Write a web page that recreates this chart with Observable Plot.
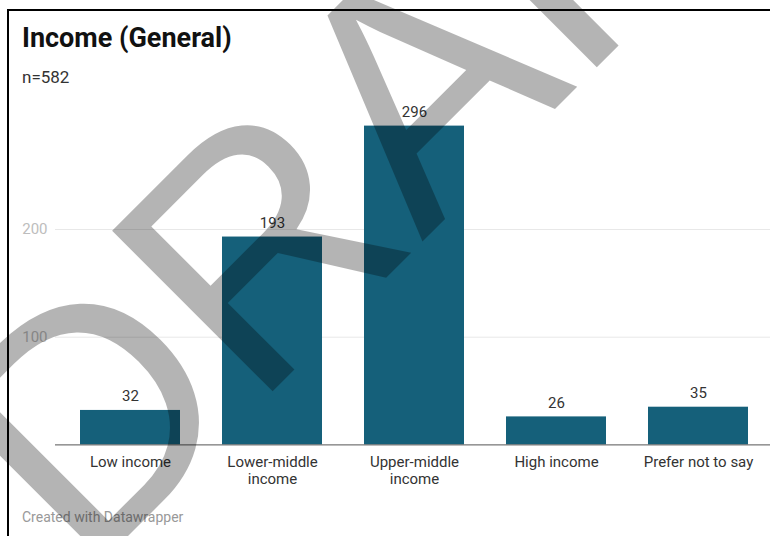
<!DOCTYPE html>
<html>
<head>
<meta charset="utf-8">
<script src="https://cdn.jsdelivr.net/npm/d3@7"></script>
<script src="https://cdn.jsdelivr.net/npm/@observablehq/plot@0.6"></script>
<style>
  html, body { margin: 0; padding: 0; background: #fff; }
  #wrap { position: relative; width: 770px; height: 536px; overflow: hidden; background: #fff; font-family: Roboto, "Noto Sans", sans-serif; }
  #border { position: absolute; left: 7px; top: 9px; width: 800px; height: 600px; border-top: 2px solid #000; border-left: 2px solid #000; }
  .txt { position: absolute; white-space: nowrap; line-height: 1; }
  #title { left: 22px; top: 24.6px; font-size: 27px; font-weight: 700; color: #111; }
  #subtitle { left: 22px; top: 69px; font-size: 17px; color: #333; }
  #footer { left: 22px; top: 510px; font-size: 14px; color: #999; }
  #chart { position: absolute; left: 0; top: 90px; }
  #watermark { position: absolute; left: 0; top: 0; pointer-events: none; }
</style>
</head>
<body>
<div id="wrap">
  <div id="border"></div>
  <div id="title" class="txt">Income (General)</div>
  <div id="subtitle" class="txt">n=582</div>
  <div id="chart"></div>
  <div id="footer" class="txt">Created with Datawrapper</div>
  <svg id="watermark" width="770" height="536">
    <g opacity="0.29">
      <text x="85" y="579" transform="rotate(-45 85 579)" font-family="'Liberation Sans', Arial, sans-serif" font-size="330" fill="#000">DRAFT</text>
    </g>
  </svg>
</div>
<script>
const categories = ["Low income", "Lower-middle\nincome", "Upper-middle\nincome", "High income", "Prefer not to say"];
const values = [32, 193, 296, 26, 35];
const yTicks = [100, 200];
const barColor = "#15607a";

const data = categories.map((c, i) => ({category: c, value: values[i]}));

const chart = Plot.plot({
  width: 770,
  height: 400,
  marginLeft: 55,
  marginRight: 0,
  marginTop: 31.3,
  marginBottom: 45.6,
  style: {fontFamily: "Roboto, 'Noto Sans', sans-serif", background: "transparent", overflow: "visible"},
  x: {domain: categories, paddingInner: 0.294, paddingOuter: 0, insetLeft: 23.6, insetRight: 20.3, label: null},
  y: {domain: [0, 300], label: null},
  marks: [
    Plot.ruleY(yTicks, {stroke: "#e8e8e8", strokeWidth: 1}),
    Plot.axisY(yTicks, {tickSize: 0, tickPadding: 8, fontSize: 15, fill: "#bdbdbd", label: null}),
    Plot.barY(data, {x: "category", y: "value", fill: barColor}),
    Plot.ruleY([0], {stroke: "#555", strokeWidth: 1}),
    Plot.text(data, {x: "category", y: "value", text: d => String(d.value), dy: -9, lineAnchor: "bottom", fontSize: 15, fill: "#333"}),
    Plot.axisX({tickSize: 0, tickPadding: 10, fontSize: 15, fill: "#333", lineHeight: 17 / 15, label: null})
  ]
});
document.getElementById("chart").appendChild(chart);
</script>
</body>
</html>
